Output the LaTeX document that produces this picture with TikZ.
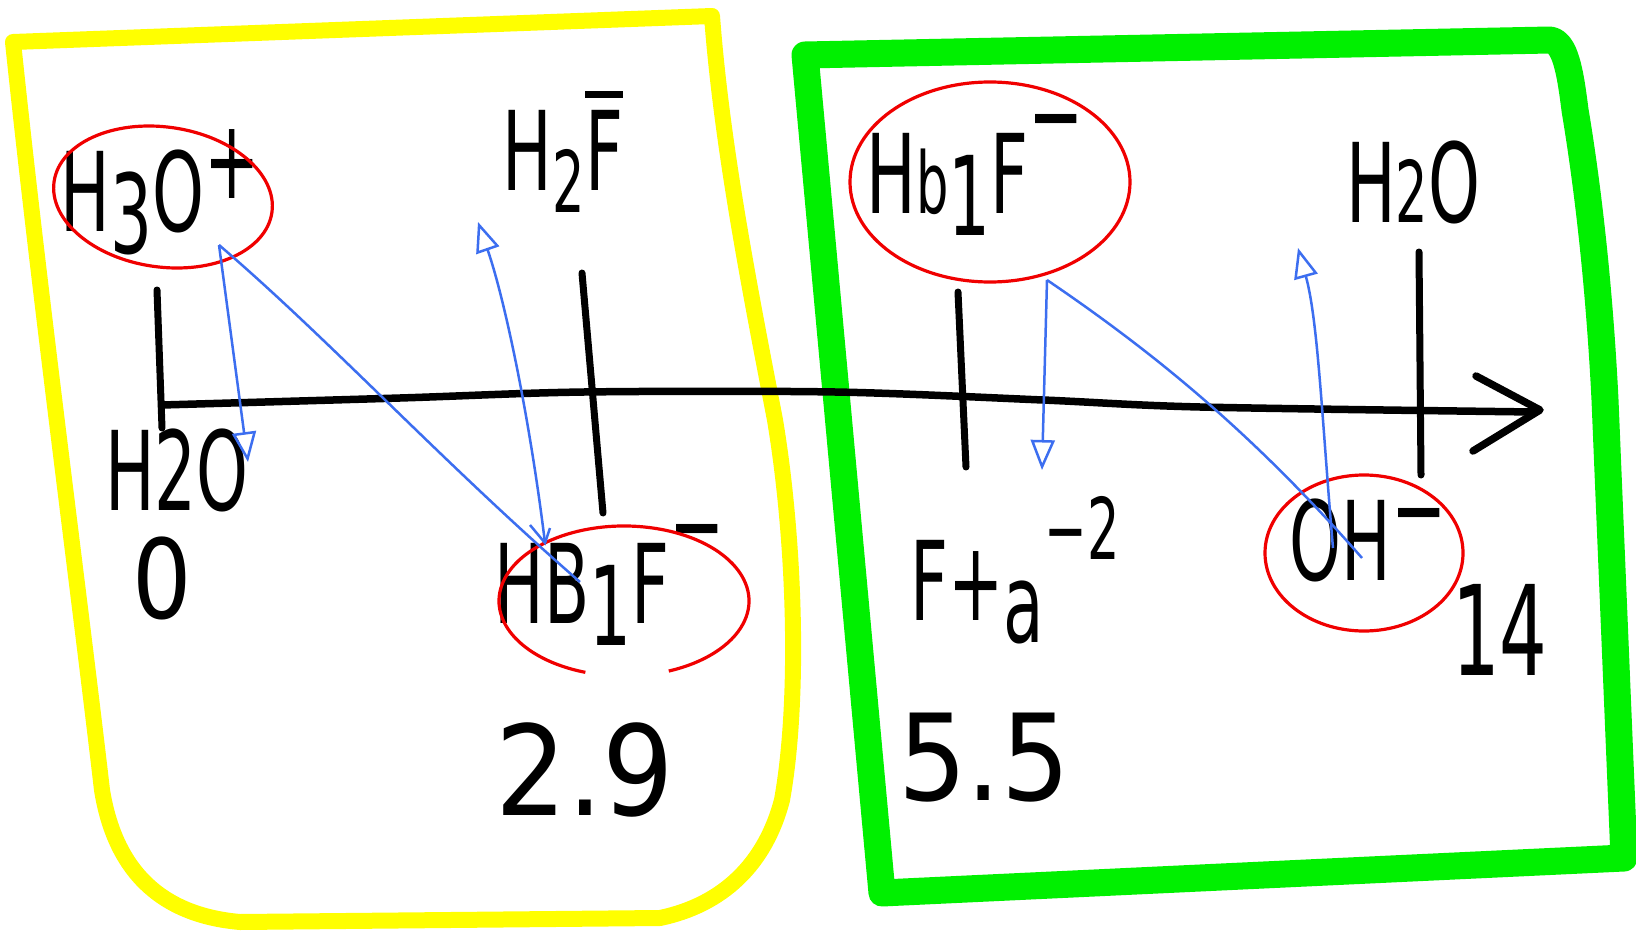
\documentclass[tikz,border=0pt]{standalone}
\usepackage{fontspec}
\usepackage{graphicx}
\setmainfont{DejaVu Sans}
\usetikzlibrary{arrows.meta}
\newcommand\hw[2][0.6]{\scalebox{#1}[1]{\fontsize{110}{110}\selectfont #2}}
\newcommand\up[1]{\raisebox{0.55em}{#1}}
\newcommand\lup[1]{\raisebox{0.3em}{#1}}
\newcommand\dn[1]{\raisebox{-0.2em}{#1}}
\newcommand\sm[1]{{\fontsize{85}{85}\selectfont #1}}
\newcommand\barF{\vbox{\hrule height 7pt depth 0pt\kern 12pt\hbox{F}}}
\definecolor{hwyellow}{RGB}{255,255,0}
\definecolor{hwgreen}{RGB}{0,240,0}
\definecolor{hwred}{RGB}{240,0,0}
\definecolor{hwblue}{RGB}{60,110,240}
\tikzset{
  yellowbox/.style={draw=hwyellow,line width=16pt,line join=round,line cap=round},
  greenbox/.style={draw=hwgreen,line width=27pt,line join=round,line cap=round},
  axisline/.style={draw=black,line width=7.5pt,line cap=round,line join=round},
  tickline/.style={draw=black,line width=7pt,line cap=round},
  ring/.style={draw=hwred,line width=3.2pt},
  barrow/.style={draw=hwblue,line width=2.5pt,-{Triangle[open,length=30pt,width=24pt,line width=2.5pt]}},
  bline/.style={draw=hwblue,line width=2.5pt},
  lbl/.style={inner sep=0pt,text=black}
}
\begin{document}
\begin{tikzpicture}[x=1pt,y=-1pt]
\useasboundingbox[fill=white] (0,0) rectangle (1636,947);
% boxes
\draw[yellowbox] (13,42) -- (712,16) .. controls (722,150) and (752,300) .. (775,420)
  .. controls (795,540) and (800,700) .. (782,800) .. controls (765,865) and (722,905) .. (660,918)
  -- (240,922) .. controls (160,915) and (115,870) .. (102,790) .. controls (80,600) and (40,300) .. cycle;
\draw[greenbox] (805,55) -- (1550,40) .. controls (1565,42) and (1570,70) .. (1575,110)
  .. controls (1590,200) and (1600,300) .. (1605,400) -- (1624,858) -- (882,893) -- cycle;
% axis
\draw[axisline] plot[smooth] coordinates {(162,405) (400,398) (584,392) (835,392) (1043,400) (1200,407) (1534,412)};
\draw[axisline] (1476,376) -- (1540,410) -- (1473,451);
% ticks
\draw[tickline] (157,290) -- (162,428);
\draw[tickline] (582,273) -- (603,513);
\draw[tickline] (958,292) -- (966,467);
\draw[tickline] (1419,252) -- (1421,475);
% labels
\node[lbl] (h3o) at (160,192) {\hw{H\dn{3}O\lup{+}}};
\node[lbl] (h2f) at (563,152) {\hw{H\dn{\sm{2}}\barF}};
\node[lbl] (h2oa) at (177,470) {\hw{H2O}};
\node[lbl] (zero) at (162,578) {\hw[0.85]{0}};
\node[lbl] (hbfa) at (610,585) {\hw{HB\dn{1}F\up{−}}};
\node[lbl] (v29) at (585,770) {\hw[0.9]{\fontsize{125}{125}\selectfont 2.9}};
\node[lbl] (hbfb) at (975,175) {\hw{H\sm{b}\dn{1}F\up{−}}};
\node[lbl] (h2ob) at (1413,182) {\hw{H\sm{2}O}};
\node[lbl] (fta) at (1015,570) {\hw{F+\dn{a}\up{\sm{−2}}}};
\node[lbl] (oh) at (1368,540) {\hw{OH\lup{−}}};
\node[lbl] (v14) at (1500,630) {\hw{\fontsize{125}{125}\selectfont 14}};
\node[lbl] (v55) at (984,758) {\hw[0.9]{\fontsize{120}{120}\selectfont 5.5}};
% red rings
\draw[ring] (163,197) ellipse [x radius=110, y radius=70, rotate=-8];
\draw[ring] (624,601) ++(108:125 and 75) arc[start angle=108, end angle=429, x radius=125, y radius=75];
\draw[ring] (990,182) ellipse [x radius=140, y radius=100];
\draw[ring] (1364,553) ellipse [x radius=99, y radius=78];
% blue arrows
\coordinate (a1s) at (219,245);
\coordinate (a1e) at (248,462);
\coordinate (a2e) at (580,582);
\coordinate (a3s) at (545,543);
\coordinate (a3e) at (478,222);
\coordinate (a4s) at (1047,280);
\coordinate (a4e) at (1042,470);
\coordinate (a5e) at (1362,558);
\coordinate (a6s) at (1333,548);
\coordinate (a6e) at (1298,248);
\draw[barrow] (a1s) -- (a1e);
\draw[bline] (a1s) .. controls (330,340) and (440,460) .. (a2e);
\draw[barrow] (a3s) .. controls (530,420) and (505,300) .. (a3e);
\draw[bline] (530,525) -- (a3s) -- (550,528);
\draw[barrow] (a4s) -- (a4e);
\draw[bline] (a4s) .. controls (1150,350) and (1250,430) .. (a5e);
\draw[barrow] (a6s) .. controls (1322,420) and (1318,320) .. (a6e);
\end{tikzpicture}
\end{document}
